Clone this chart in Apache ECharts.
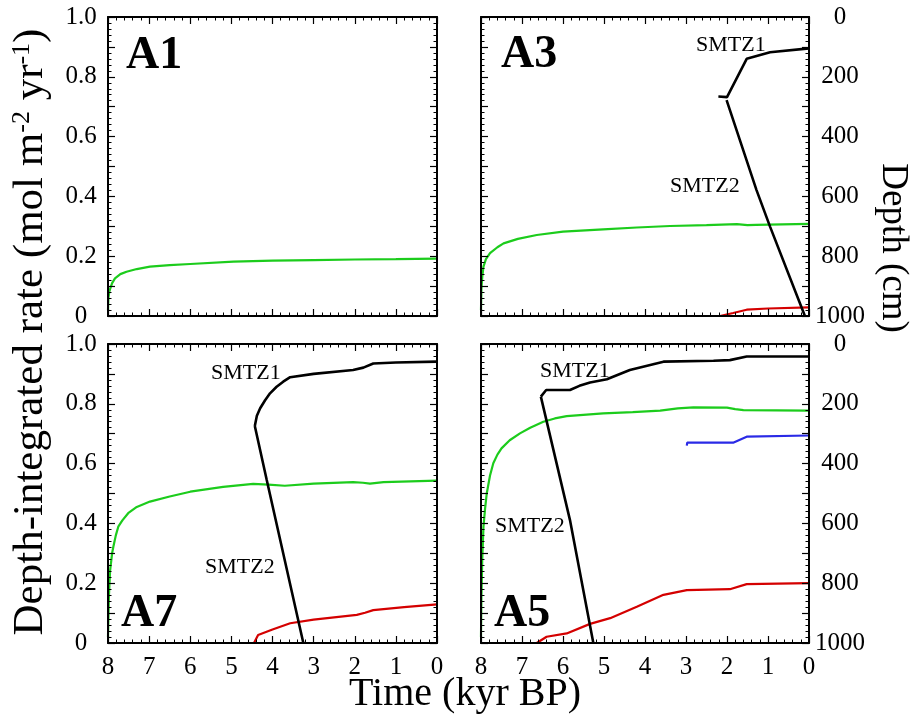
<!DOCTYPE html>
<html>
<head>
<meta charset="utf-8">
<script src="https://cdn.jsdelivr.net/npm/echarts@6.0.0/dist/echarts.min.js"></script>
<style>
  html, body { margin: 0; padding: 0; background: #fff; }
  #chart { width: 917px; height: 721px; }
</style>
</head>
<body>
<div id="chart"></div>
<script>
// ---- Axis ticks ----
const timeTicks = [8, 7, 6, 5, 4, 3, 2, 1, 0];          // kyr BP
const rateTicks = [0, 0.2, 0.4, 0.6, 0.8, 1.0];          // mol m-2 yr-1
const depthTicks = [0, 200, 400, 600, 800, 1000];        // cm

// ---- Panel A1 ----
const a1GreenTime = [8.0, 7.99, 7.97, 7.95, 7.9, 7.83, 7.7, 7.55, 7.3, 6.98, 6.5, 6.0, 4.95, 4.0, 3.0, 2.0, 1.0, 0.0];
const a1GreenRate = [0.02, 0.06, 0.08, 0.09, 0.11, 0.126, 0.14, 0.148, 0.157, 0.165, 0.170, 0.174, 0.182, 0.185, 0.187, 0.189, 0.190, 0.192];

// ---- Panel A3 ----
const a3GreenTime = [8.0, 7.99, 7.97, 7.94, 7.88, 7.78, 7.6, 7.45, 7.1, 6.64, 6.0, 5.02, 4.2, 3.39, 2.5, 1.76, 1.5, 1.3, 0.0];
const a3GreenRate = [0.02, 0.09, 0.13, 0.165, 0.19, 0.21, 0.23, 0.243, 0.258, 0.271, 0.282, 0.29, 0.296, 0.301, 0.304, 0.307, 0.304, 0.305, 0.308];
const a3RedTime = [8.0, 2.17, 1.85, 1.52, 1.0, 0.0];
const a3RedRate = [0, 0, 0.01, 0.021, 0.025, 0.029];
const a3Smtz1Time = [2.21, 2.0, 1.52, 0.95, 0.0];
const a3Smtz1Depth = [266, 268, 140, 118, 105];
const a3Smtz2Time = [2.01, 1.28, 0.95, 0.10];
const a3Smtz2Depth = [278, 579, 701, 1000];

// ---- Panel A7 ----
const a7GreenTime = [8.0, 7.98, 7.95, 7.9, 7.87, 7.81, 7.75, 7.65, 7.51, 7.3, 6.98, 6.5, 6.0, 5.2, 4.47, 4.1, 3.7, 3.0, 2.04, 1.8, 1.63, 1.3, 0.0];
const a7GreenRate = [0.02, 0.15, 0.24, 0.30, 0.322, 0.36, 0.389, 0.41, 0.434, 0.455, 0.473, 0.49, 0.506, 0.522, 0.532, 0.530, 0.526, 0.533, 0.538, 0.536, 0.533, 0.538, 0.543];
const a7RedTime = [8.0, 4.45, 4.35, 4.0, 3.57, 3.0, 1.95, 1.75, 1.55, 0.8, 0.0];
const a7RedRate = [0, 0, 0.027, 0.045, 0.066, 0.078, 0.094, 0.101, 0.110, 0.120, 0.129];
const a7Smtz1Time = [4.43, 4.38, 4.3, 4.18, 4.06, 3.9, 3.74, 3.57, 3.0, 2.04, 1.79, 1.55, 1.0, 0.0];
const a7Smtz1Depth = [274, 240, 215, 188, 165, 143, 126, 111, 100, 87, 79, 65, 62, 59];
const a7Smtz2Time = [4.43, 4.14, 3.25];
const a7Smtz2Depth = [274, 455, 1000];

// ---- Panel A5 ----
const a5GreenTime = [8.0, 7.99, 7.97, 7.94, 7.9, 7.86, 7.78, 7.70, 7.6, 7.5, 7.3, 7.05, 6.8, 6.48, 6.2, 5.91, 5.02, 4.3, 3.63, 3.2, 2.82, 2.0, 1.8, 1.6, 0.0];
const a5GreenRate = [0.02, 0.15, 0.28, 0.389, 0.45, 0.50, 0.56, 0.601, 0.63, 0.651, 0.678, 0.701, 0.72, 0.740, 0.751, 0.759, 0.768, 0.772, 0.777, 0.785, 0.788, 0.787, 0.782, 0.779, 0.777];
const a5BlueTime = [2.98, 2.97, 1.85, 1.52, 0.0];
const a5BlueRate = [0.66, 0.670, 0.670, 0.690, 0.694];
const a5RedTime = [8.0, 6.64, 6.4, 5.91, 5.34, 4.85, 4.2, 3.55, 2.98, 1.93, 1.52, 0.0];
const a5RedRate = [0, 0, 0.021, 0.032, 0.064, 0.083, 0.121, 0.161, 0.177, 0.180, 0.197, 0.200];
const a5Smtz1Time = [6.54, 6.41, 5.83, 5.6, 5.34, 4.93, 4.37, 3.55, 2.33, 1.93, 1.52, 0.0];
const a5Smtz1Depth = [176, 154, 154, 140, 129, 118, 87, 59, 56, 54, 42, 42];
const a5Smtz2Time = [6.54, 5.83, 5.26];
const a5Smtz2Depth = [176, 589, 1000];

// ---- Styling ----
const SERIF = 'Liberation Serif, Times New Roman, serif';
const GREEN = '#1ccc1c';
const RED = '#d40000';
const BLUE = '#2a2ae6';
const BLACK = '#000000';

const panels = [
  { left: 108, top: 17,  width: 329, height: 299, xLabels: false, rateLabels: true,  depthLabels: false },
  { left: 481, top: 17,  width: 328, height: 299, xLabels: false, rateLabels: false, depthLabels: true },
  { left: 108, top: 344, width: 329, height: 299, xLabels: true,  rateLabels: true,  depthLabels: false },
  { left: 481, top: 344, width: 328, height: 299, xLabels: true,  rateLabels: false, depthLabels: true }
];

function zip(t, v) { return t.map((x, i) => [x, v[i]]); }

const frameLine = { show: true, onZero: false, lineStyle: { color: BLACK, width: 2 } };
const tickStyle = { inside: true, length: 7, lineStyle: { color: BLACK, width: 1.2 } };
const minorStyle = { show: true, splitNumber: 5, length: 3.5, lineStyle: { color: BLACK, width: 1 } };
const labelFont = { fontFamily: SERIF, fontSize: 25, color: BLACK };

const grid = [], xAxis = [], yAxis = [];
panels.forEach((p, gi) => {
  grid.push({ left: p.left, top: p.top, width: p.width, height: p.height, containLabel: false });
  ['bottom', 'top'].forEach(pos => {
    xAxis.push({
      type: 'value', gridIndex: gi, position: pos, z: 3,
      min: timeTicks[timeTicks.length - 1], max: timeTicks[0], interval: 1, inverse: true,
      axisLine: frameLine, axisTick: tickStyle, minorTick: minorStyle,
      splitLine: { show: false },
      axisLabel: Object.assign({ show: pos === 'bottom' && p.xLabels, margin: 12 }, labelFont)
    });
  });
  yAxis.push({
    type: 'value', gridIndex: gi, position: 'left', z: 3,
    min: rateTicks[0], max: rateTicks[rateTicks.length - 1], interval: 0.1,
    axisLine: frameLine, axisTick: tickStyle, minorTick: minorStyle,
    splitLine: { show: false },
    axisLabel: Object.assign({
      show: p.rateLabels, margin: 27, align: 'center', padding: [8, 0, 0, 0],
      formatter: v => {
        const hit = rateTicks.find(r => Math.abs(r - v) < 1e-6);
        if (hit === undefined) return '';
        return hit === 0 ? '0' : hit.toFixed(1);
      }
    }, labelFont)
  });
  yAxis.push({
    type: 'value', gridIndex: gi, position: 'right', z: 3,
    min: depthTicks[0], max: depthTicks[depthTicks.length - 1], interval: 100, inverse: true,
    axisLine: frameLine, axisTick: tickStyle, minorTick: minorStyle,
    splitLine: { show: false },
    axisLabel: Object.assign({
      show: p.depthLabels, margin: 31, align: 'center', padding: [6, 0, 0, 0],
      formatter: v => depthTicks.indexOf(Math.round(v)) >= 0 ? String(Math.round(v)) : ''
    }, labelFont)
  });
});

function line(gi, onDepth, data, color, width) {
  return {
    type: 'line', xAxisIndex: gi * 2, yAxisIndex: gi * 2 + (onDepth ? 1 : 0),
    data: data, showSymbol: false, symbol: 'none', smooth: false,
    lineStyle: { color: color, width: width }, itemStyle: { color: color },
    silent: true, animation: false, z: onDepth ? 4 : 2
  };
}

const series = [
  line(0, false, zip(a1GreenTime, a1GreenRate), GREEN, 2.2),

  line(1, false, zip(a3RedTime, a3RedRate), RED, 2.2),
  line(1, false, zip(a3GreenTime, a3GreenRate), GREEN, 2.2),
  line(1, true, zip(a3Smtz1Time, a3Smtz1Depth), BLACK, 2.6),
  line(1, true, zip(a3Smtz2Time, a3Smtz2Depth), BLACK, 2.6),

  line(2, false, zip(a7RedTime, a7RedRate), RED, 2.2),
  line(2, false, zip(a7GreenTime, a7GreenRate), GREEN, 2.2),
  line(2, true, zip(a7Smtz1Time, a7Smtz1Depth), BLACK, 2.6),
  line(2, true, zip(a7Smtz2Time, a7Smtz2Depth), BLACK, 2.6),

  line(3, false, zip(a5RedTime, a5RedRate), RED, 2.2),
  line(3, false, zip(a5GreenTime, a5GreenRate), GREEN, 2.2),
  line(3, false, zip(a5BlueTime, a5BlueRate), BLUE, 2.2),
  line(3, true, zip(a5Smtz1Time, a5Smtz1Depth), BLACK, 2.6),
  line(3, true, zip(a5Smtz2Time, a5Smtz2Depth), BLACK, 2.6)
];

function txt(x, y, text, size, opts) {
  return Object.assign({
    type: 'text', x: x, y: y, silent: true, z: 10,
    style: Object.assign({
      text: text, fontFamily: SERIF, fontSize: size, fill: BLACK,
      align: 'left', verticalAlign: 'middle'
    }, (opts && opts.style) || {})
  }, (opts && opts.el) || {});
}

const graphic = [
  // panel names
  txt(126, 56, 'A1', 46, { style: { fontWeight: 'bold' } }),
  txt(501, 55, 'A3', 46, { style: { fontWeight: 'bold' } }),
  txt(121, 614, 'A7', 46, { style: { fontWeight: 'bold' } }),
  txt(494, 614, 'A5', 46, { style: { fontWeight: 'bold' } }),
  // SMTZ annotations
  txt(696, 45, 'SMTZ1', 22),
  txt(670, 186, 'SMTZ2', 22),
  txt(211, 373, 'SMTZ1', 22),
  txt(205, 567, 'SMTZ2', 22),
  txt(540, 371, 'SMTZ1', 22),
  txt(495, 526, 'SMTZ2', 22),
  // axis titles
  txt(465, 694, 'Time (kyr BP)', 40, { style: { align: 'center' } }),
  {
    type: 'text', x: 31, y: 332, rotation: Math.PI / 2, silent: true, z: 10,
    style: {
      text: 'Depth-integrated rate (mol m{sup|-2} yr{sup|-1})',
      fontFamily: SERIF, fontSize: 43, fill: BLACK,
      align: 'center', verticalAlign: 'middle',
      rich: { sup: { fontFamily: SERIF, fontSize: 26, fill: BLACK, verticalAlign: 'top', lineHeight: 43 } }
    }
  },
  {
    type: 'text', x: 893, y: 248, rotation: -Math.PI / 2, silent: true, z: 10,
    style: {
      text: 'Depth (cm)', fontFamily: SERIF, fontSize: 37, fill: BLACK,
      align: 'center', verticalAlign: 'middle'
    }
  }
];

const chart = echarts.init(document.getElementById('chart'), null, { renderer: 'canvas' });
chart.setOption({
  backgroundColor: '#ffffff',
  animation: false,
  grid: grid,
  xAxis: xAxis,
  yAxis: yAxis,
  series: series,
  graphic: graphic
});
</script>
</body>
</html>
